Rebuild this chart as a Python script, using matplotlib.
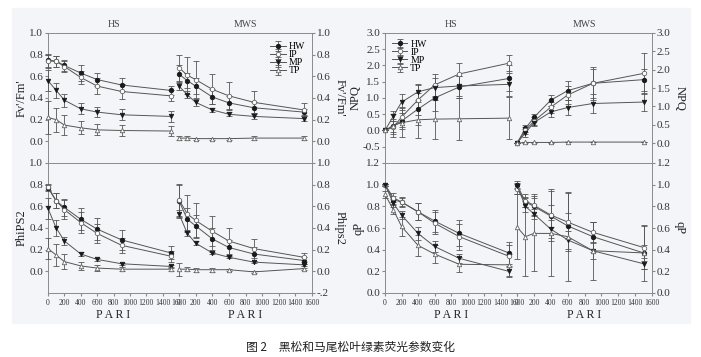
import matplotlib
matplotlib.use("Agg")
import matplotlib.pyplot as plt
from matplotlib.patches import Rectangle

plt.rcParams['font.family'] = ['Liberation Serif', 'Noto Sans CJK SC', 'DejaVu Sans']

par = [0, 100, 200, 400, 600, 900, 1500]
groups = ["HW", "IP", "MP", "TP"]

# rows: HW, IP, MP, TP
fv_hs = [[0.75, 0.74, 0.70, 0.63, 0.57, 0.52, 0.47],
         [0.74, 0.74, 0.69, 0.59, 0.51, 0.46, 0.42],
         [0.56, 0.47, 0.38, 0.30, 0.27, 0.245, 0.23],
         [0.22, 0.20, 0.15, 0.125, 0.106, 0.10, 0.095]]
fv_hs_err = [[0.06, 0.05, 0.05, 0.07, 0.06, 0.06, 0.04],
             [0.06, 0.05, 0.05, 0.06, 0.07, 0.07, 0.05],
             [0.10, 0.07, 0.06, 0.05, 0.05, 0.05, 0.05],
             [0.15, 0.11, 0.09, 0.06, 0.05, 0.05, 0.05]]
fv_mws = [[0.62, 0.56, 0.51, 0.41, 0.355, 0.31, 0.27],
          [0.68, 0.61, 0.57, 0.48, 0.42, 0.36, 0.29],
          [0.51, 0.43, 0.36, 0.29, 0.25, 0.23, 0.21],
          [0.03, 0.03, 0.025, 0.025, 0.025, 0.03, 0.03]]
fv_mws_err = [[0.08, 0.07, 0.07, 0.07, 0.06, 0.05, 0.03],
              [0.12, 0.17, 0.17, 0.14, 0.13, 0.10, 0.06],
              [0.04, 0.03, 0.03, 0.02, 0.02, 0.02, 0.02],
              [0.02, 0.02, 0.01, 0.01, 0.01, 0.02, 0.02]]

phi_hs = [[0.77, 0.65, 0.59, 0.48, 0.39, 0.29, 0.17],
          [0.78, 0.65, 0.57, 0.45, 0.35, 0.24, 0.14],
          [0.58, 0.40, 0.28, 0.16, 0.11, 0.07, 0.045],
          [0.21, 0.15, 0.09, 0.05, 0.03, 0.02, 0.02]]
phi_hs_err = [[0.03, 0.07, 0.08, 0.10, 0.10, 0.09, 0.06],
              [0.03, 0.07, 0.09, 0.10, 0.09, 0.07, 0.05],
              [0.10, 0.07, 0.04, 0.02, 0.01, 0.01, 0.01],
              [0.10, 0.10, 0.07, 0.04, 0.03, 0.02, 0.02]]
phi_mws = [[0.65, 0.48, 0.42, 0.30, 0.22, 0.16, 0.10],
           [0.66, 0.53, 0.47, 0.37, 0.28, 0.21, 0.13],
           [0.53, 0.35, 0.26, 0.17, 0.13, 0.085, 0.06],
           [0.02, 0.02, 0.015, 0.015, 0.015, -0.005, 0.025]]
phi_mws_err = [[0.15, 0.10, 0.10, 0.10, 0.07, 0.06, 0.03],
               [0.15, 0.17, 0.16, 0.14, 0.12, 0.09, 0.04],
               [0.04, 0.02, 0.02, 0.01, 0.01, 0.01, 0.01],
               [0.06, 0.02, 0.02, 0.02, 0.01, 0.01, 0.01]]

npq_hs = [[0, 0.15, 0.29, 0.66, 1.00, 1.34, 1.60],
          [0, 0.10, 0.41, 0.94, 1.40, 1.74, 2.07],
          [0, 0.44, 0.87, 1.19, 1.32, 1.37, 1.42],
          [0, 0.15, 0.24, 0.33, 0.35, 0.36, 0.38]]
npq_hs_err = [[0, 0.20, 0.25, 0.50, 0.40, 0.35, 0.40],
              [0, 0.20, 0.30, 0.45, 0.35, 0.35, 0.25],
              [0, 0.15, 0.25, 0.25, 0.30, 0.30, 0.35],
              [0, 0.35, 0.45, 0.55, 0.60, 0.65, 0.65]]
npq_mws = [[0, 0.40, 0.70, 1.17, 1.43, 1.63, 1.73],
           [0, 0.35, 0.60, 0.98, 1.31, 1.63, 1.90],
           [0, 0.28, 0.56, 0.85, 0.97, 1.08, 1.12],
           [0, 0.02, 0.02, 0.02, 0.03, 0.03, 0.03]]
npq_mws_err = [[0, 0.10, 0.10, 0.15, 0.25, 0.40, 0.30],
               [0, 0.10, 0.10, 0.15, 0.25, 0.45, 0.55],
               [0, 0.10, 0.10, 0.15, 0.20, 0.25, 0.25],
               [0, 0.01, 0.01, 0.01, 0.01, 0.01, 0.01]]

qp_hs = [[1.0, 0.86, 0.84, 0.75, 0.665, 0.55, 0.37],
         [1.0, 0.88, 0.84, 0.75, 0.645, 0.52, 0.34],
         [1.0, 0.83, 0.72, 0.55, 0.43, 0.32, 0.20],
         [0.91, 0.77, 0.615, 0.44, 0.36, 0.265, 0.26]]
qp_hs_err = [[0.01, 0.04, 0.04, 0.08, 0.10, 0.12, 0.10],
             [0.01, 0.04, 0.05, 0.08, 0.10, 0.12, 0.10],
             [0.01, 0.04, 0.04, 0.06, 0.05, 0.04, 0.05],
             [0.03, 0.04, 0.09, 0.10, 0.08, 0.07, 0.10]]
qp_mws = [[1.0, 0.84, 0.80, 0.71, 0.62, 0.52, 0.37],
          [0.96, 0.85, 0.81, 0.72, 0.655, 0.56, 0.42],
          [0.99, 0.80, 0.73, 0.59, 0.49, 0.39, 0.27],
          [0.61, 0.52, 0.55, 0.55, 0.52, 0.39, 0.37]]
qp_mws_err = [[0.03, 0.05, 0.08, 0.10, 0.12, 0.14, 0.07],
              [0.05, 0.06, 0.10, 0.24, 0.27, 0.10, 0.20],
              [0.03, 0.05, 0.05, 0.08, 0.08, 0.08, 0.05],
              [0.30, 0.36, 0.35, 0.39, 0.41, 0.27, 0.26]]

markers = ["o", "o", "v", "^"]
filled = [True, False, True, False]
line_c = "#555555"
spine_c = "#8a8a8a"
bg = "#f3f5f8"

fig = plt.figure(figsize=(7.01, 3.57), dpi=100)
fig.patches.append(Rectangle((12 / 701, 1 - 323 / 357), 678 / 701, 315 / 357,
                             transform=fig.transFigure, color=bg, zorder=-10))

W, H = 701.0, 357.0
def make_ax(x0, x1, ytop, ybot):
    return fig.add_axes([x0 / W, 1 - ybot / H, (x1 - x0) / W, (ybot - ytop) / H])

def draw(ax, means, errs):
    for i in range(4):
        eb = ax.errorbar(par, means[i], yerr=errs[i], color=line_c, lw=0.7,
                         elinewidth=0.6, capsize=2.2, capthick=0.6,
                         marker=markers[i], ms=3.2,
                         mfc="#1a1a1a" if filled[i] else "white",
                         mec="#1a1a1a" if filled[i] else "#666666", mew=0.6,
                         label=groups[i], zorder=3)
        for art in eb.get_children():
            art.set_clip_on(False)

def style(ax, side, ylim, ticks, labels, bottom_row, ylabel):
    ax.set_facecolor(bg)
    ax.set_xlim(0, 1600)
    ax.set_ylim(*ylim)
    for s in ax.spines.values():
        s.set_color(spine_c)
        s.set_linewidth(0.7)
    ax.set_yticks(ticks)
    ax.set_yticklabels(labels)
    ax.set_xticks(range(0, 1601, 200))
    if side == "left":
        ax.tick_params(axis="y", left=True, right=False, labelleft=True,
                       labelright=False, labelsize=8, length=2.5, pad=1,
                       color=spine_c, labelcolor="#333333")
        ax.set_ylabel(ylabel, fontsize=9, labelpad=1, color="#222222")
    else:
        ax.tick_params(axis="y", left=False, right=True, labelleft=False,
                       labelright=True, labelsize=8, length=2.5, pad=1,
                       color=spine_c, labelcolor="#333333")
        ax.yaxis.set_label_position("right")
        ax.set_ylabel(ylabel, fontsize=9, labelpad=2, rotation=270,
                      va="bottom", color="#222222")
    if bottom_row:
        ax.tick_params(axis="x", bottom=True, labelbottom=True, labelsize=5.5,
                       length=2, pad=2, color=spine_c, labelcolor="#333333")
        ax.set_xlabel("P A R I", fontsize=8.5, labelpad=2, color="#222222")
    else:
        ax.tick_params(axis="x", bottom=False, labelbottom=False)

def fmt(vals):
    return ["%.1f" % v for v in vals]

t01 = [0.0, 0.2, 0.4, 0.6, 0.8, 1.0]

# left block
ax1 = make_ax(48, 179, 33, 163)
ax2 = make_ax(179, 312, 33, 163)
ax3 = make_ax(48, 179, 163, 293)
ax4 = make_ax(179, 312, 163, 293)
# right block
ax5 = make_ax(385, 517, 33, 163)
ax6 = make_ax(517, 652, 33, 163)
ax7 = make_ax(385, 517, 163, 293)
ax8 = make_ax(517, 652, 163, 293)

draw(ax1, fv_hs, fv_hs_err)
draw(ax2, fv_mws, fv_mws_err)
draw(ax3, phi_hs, phi_hs_err)
draw(ax4, phi_mws, phi_mws_err)
draw(ax5, npq_hs, npq_hs_err)
draw(ax6, npq_mws, npq_mws_err)
draw(ax7, qp_hs, qp_hs_err)
draw(ax8, qp_mws, qp_mws_err)

style(ax1, "left", (-0.2, 1.0), t01, fmt(t01), False, "Fv'/Fm'")
style(ax2, "right", (-0.2, 1.0), t01, fmt(t01), False, "Fv'/Fm'")
style(ax3, "left", (-0.2, 1.0), t01, fmt(t01), True, "PhiPS2")
style(ax4, "right", (-0.2, 1.0), [-0.2] + t01, ["-.2"] + fmt(t01), True, "Phips2")
npq_l = [-0.5, 0.0, 0.5, 1.0, 1.5, 2.0, 2.5, 3.0]
npq_r = [0.0, 0.5, 1.0, 1.5, 2.0, 2.5, 3.0]
style(ax5, "left", (-1.0, 3.0), npq_l, fmt(npq_l), False, "NPQ")
style(ax6, "right", (-0.54, 3.0), npq_r, fmt(npq_r), False, "NPQ")
qp_t = [0.0, 0.2, 0.4, 0.6, 0.8, 1.0, 1.2]
style(ax7, "left", (0.0, 1.2), qp_t, fmt(qp_t), True, "qP")
style(ax8, "right", (0.0, 1.2), qp_t, fmt(qp_t), True, "qP")

for ax in (ax2, ax4, ax6, ax8):
    ax.spines["left"].set_visible(False)

for ax, t in ((ax1, "HS"), (ax2, "MWS"), (ax5, "HS"), (ax6, "MWS")):
    ax.set_title(t, fontsize=7, pad=4, color="#444444")

for ax, loc, anchor in ((ax2, "upper right", (1.0, 0.98)), (ax5, "upper left", (0.0, 1.0))):
    h, l = ax.get_legend_handles_labels()
    lg = ax.legend(h, l, loc=loc, bbox_to_anchor=anchor, frameon=False,
                   fontsize=7, handlelength=1.6, handletextpad=0.3,
                   labelspacing=-0.1, borderaxespad=0.3)

fig.text(0.5, 1 - 347 / H, "图 2　黑松和马尾松叶绿素荧光参数变化",
         ha="center", va="center", fontsize=8.5, color="#222222",
         family=["Noto Sans CJK SC", "DejaVu Sans"])

fig.savefig("out.png", dpi=100, facecolor="white")
